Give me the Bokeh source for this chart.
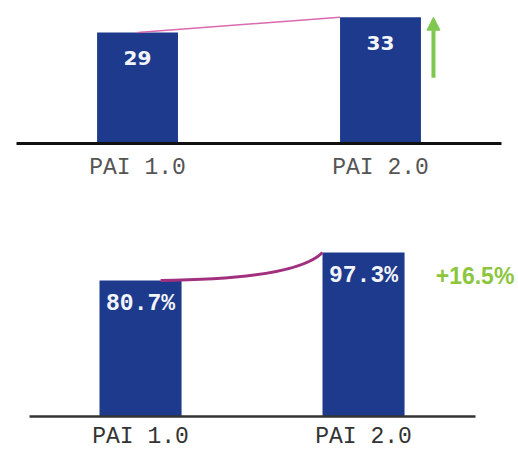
from bokeh.plotting import figure
from bokeh.layouts import column
from bokeh.models import Range1d, FixedTicker, Arrow, NormalHead, LinearAxis
from bokeh.core.properties import value
from bokeh.embed import file_html
from bokeh.resources import INLINE

# ---- data ----
categories = ["PAI 1.0", "PAI 2.0"]
xpos = [0, 1]
count_values = [29, 33]
count_labels = ["29", "33"]
rate_values = [80.7, 97.3]
rate_labels = ["80.7%", "97.3%"]
rate_change_label = "+16.5%"

BAR = "#1e3a8c"
GREEN = "#8cc63f"

# ---- top chart ----
w1 = 0.333
p1 = figure(width=518, height=223, x_range=Range1d(-0.564, 1.568), y_range=Range1d(-20.9, 37.36),
            output_backend="svg", toolbar_location=None, min_border=0,
            x_axis_location=None, y_axis_location=None, outline_line_color=None)
p1.grid.visible = False
p1.vbar(x=xpos, top=count_values, bottom=0, width=w1, fill_color=BAR, line_color=None)
p1.line(x=[xpos[0], xpos[1] - w1 / 2], y=count_values, line_color="#d45aa6", line_width=1.5, line_alpha=0.9)
p1.text(x=xpos, y=[v - 6.7 for v in count_values], text=count_labels, text_align="center",
        text_baseline="middle", text_color="#f2f5fb", text_font=value("DejaVu Sans"),
        text_font_style="bold", text_font_size="20px")
p1.add_layout(Arrow(end=NormalHead(size=13, fill_color="#7ec850", line_color="#7ec850"),
                    x_start=xpos[1] + 0.218, y_start=count_values[1] * 0.52,
                    x_end=xpos[1] + 0.218, y_end=count_values[1],
                    line_color="#7ec850", line_width=4))
ax1 = LinearAxis(fixed_location=0, bounds=(-0.5, 1.5), ticker=FixedTicker(ticks=xpos),
                 major_label_overrides={x: c for x, c in zip(xpos, categories)},
                 axis_line_width=3, axis_line_color="#111111",
                 major_tick_line_color=None, minor_tick_line_color=None,
                 major_label_standoff=5, major_label_text_font="Liberation Mono",
                 major_label_text_font_size="23px", major_label_text_color="#555555")
p1.add_layout(ax1, "below")

# ---- bottom chart ----
w2 = 0.368
p2 = figure(width=518, height=227, x_range=Range1d(-0.628, 1.695), y_range=Range1d(-20.2, 114.5),
            output_backend="svg", toolbar_location=None, min_border=0,
            x_axis_location=None, y_axis_location=None, outline_line_color=None)
p2.grid.visible = False
p2.vbar(x=xpos, top=rate_values, bottom=0, width=w2, fill_color=BAR, line_color=None)
p2.quadratic(x0=[xpos[0] + 0.09], y0=[rate_values[0]], x1=[xpos[1] - w2 / 2], y1=[rate_values[1]],
             cx=[0.70], cy=[rate_values[0] + 0.8], line_color="#a2307e", line_width=3)
p2.text(x=xpos, y=[v - 14 for v in rate_values], text=rate_labels, text_align="center",
        text_baseline="middle", text_color="#f2f5fb", text_font=value("Liberation Mono"),
        text_font_style="bold", text_font_size="23px")
p2.text(x=[xpos[1] + 0.50], y=[rate_values[1] - 14], text=[rate_change_label], text_align="center",
        text_baseline="middle", text_color=GREEN, text_font=value("Liberation Sans"),
        text_font_style="bold", text_font_size="23px")
ax2 = LinearAxis(fixed_location=0, bounds=(-0.5, 1.5), ticker=FixedTicker(ticks=xpos),
                 major_label_overrides={x: c for x, c in zip(xpos, categories)},
                 axis_line_width=2.5, axis_line_color="#333333",
                 major_tick_line_color=None, minor_tick_line_color=None,
                 major_label_standoff=2, major_label_text_font="Liberation Mono",
                 major_label_text_font_size="23px", major_label_text_color="#333333")
p2.add_layout(ax2, "below")

layout = column(p1, p2, spacing=0)
open("out.html", "w").write(file_html(layout, INLINE))
